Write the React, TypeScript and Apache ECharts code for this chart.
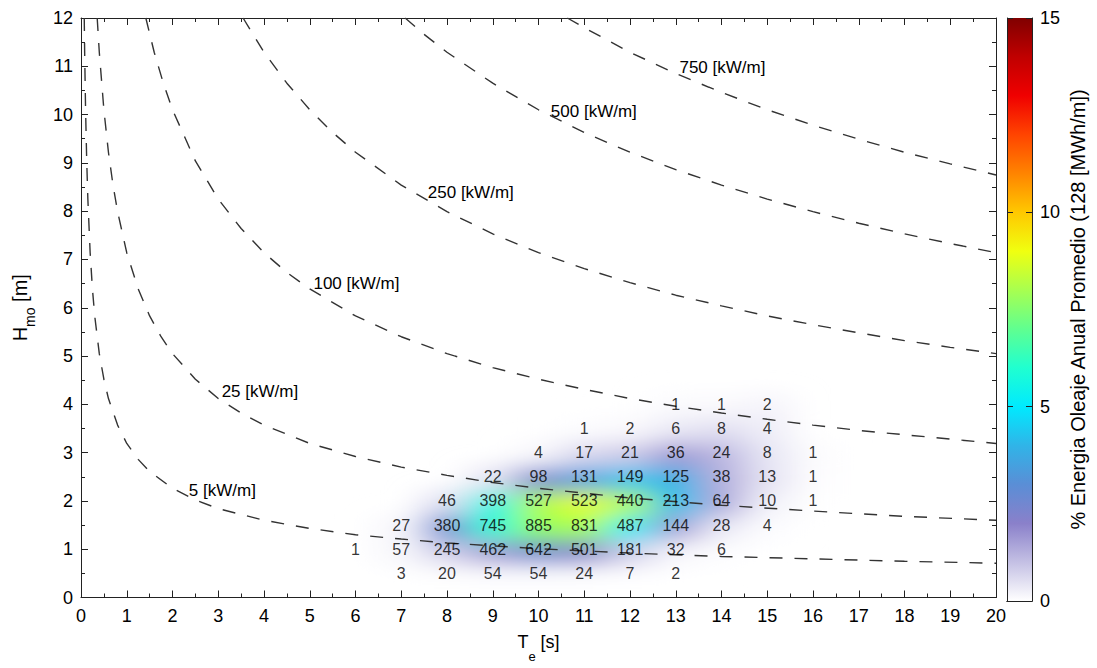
import React, { useEffect, useRef } from "react";
import * as echarts from "echarts";

// ---------------- data ----------------
const T_VALUES = [6, 7, 8, 9, 10, 11, 12, 13, 14, 15, 16];
const H_VALUES = [0.5, 1, 1.5, 2, 2.5, 3, 3.5, 4];

// number of sea states per (T, H) cell, one array per H row (index = T_VALUES)
const COUNT_H05 = [null, 3, 20, 54, 54, 24, 7, 2, null, null, null];
const COUNT_H10 = [1, 57, 245, 462, 642, 501, 181, 32, 6, null, null];
const COUNT_H15 = [null, 27, 380, 745, 885, 831, 487, 144, 28, 4, null];
const COUNT_H20 = [null, null, 46, 398, 527, 523, 440, 213, 64, 10, 1];
const COUNT_H25 = [null, null, null, 22, 98, 131, 149, 125, 38, 13, 1];
const COUNT_H30 = [null, null, null, null, 4, 17, 21, 36, 24, 8, 1];
const COUNT_H35 = [null, null, null, null, null, 1, 2, 6, 8, 4, null];
const COUNT_H40 = [null, null, null, null, null, null, null, 1, 1, 2, null];
const COUNT_ROWS = [COUNT_H05, COUNT_H10, COUNT_H15, COUNT_H20, COUNT_H25, COUNT_H30, COUNT_H35, COUNT_H40];

// % of mean annual wave energy per cell (colour scale)
const ENERGY_H05 = [null, 0.0, 0.02, 0.05, 0.05, 0.03, 0.01, 0.0, null, null, null];
const ENERGY_H10 = [0.0, 0.15, 0.76, 1.61, 2.48, 2.13, 0.84, 0.16, 0.03, null, null];
const ENERGY_H15 = [null, 0.16, 2.65, 5.83, 7.7, 7.95, 5.08, 1.63, 0.34, 0.05, null];
const ENERGY_H20 = [null, null, 0.57, 5.54, 8.15, 8.9, 8.17, 4.28, 1.39, 0.23, 0.02];
const ENERGY_H25 = [null, null, null, 0.48, 2.37, 3.48, 4.32, 3.93, 1.29, 0.47, 0.04];
const ENERGY_H30 = [null, null, null, null, 0.14, 0.65, 0.88, 1.63, 1.17, 0.42, 0.06];
const ENERGY_H35 = [null, null, null, null, null, 0.05, 0.11, 0.37, 0.53, 0.28, null];
const ENERGY_H40 = [null, null, null, null, null, null, null, 0.08, 0.09, 0.19, null];
const ENERGY_ROWS = [ENERGY_H05, ENERGY_H10, ENERGY_H15, ENERGY_H20, ENERGY_H25, ENERGY_H30, ENERGY_H35, ENERGY_H40];

// iso-power curves [T, H]
const POWER_LEVELS = ["5", "25", "100", "250", "500", "750"];
const CURVE_5 = [[0.0709, 12.0], [0.08, 11.29], [0.1, 10.1], [0.125, 9.04], [0.15, 8.25], [0.2, 7.14], [0.25, 6.39], [0.3, 5.83], [0.4, 5.05], [0.5, 4.52], [0.6, 4.12], [0.8, 3.57], [1, 3.19], [1.25, 2.86], [1.5, 2.61], [2, 2.26], [2.5, 2.02], [3, 1.84], [4, 1.6], [5, 1.43], [6, 1.3], [7, 1.21], [8, 1.13], [10, 1.01], [12, 0.92], [14, 0.85], [16, 0.8], [18, 0.75], [20, 0.71]];
const CURVE_25 = [[0.354, 12.0], [0.4, 11.29], [0.5, 10.1], [0.6, 9.22], [0.7, 8.54], [0.8, 7.99], [1, 7.14], [1.25, 6.39], [1.5, 5.83], [1.75, 5.4], [2, 5.05], [2.5, 4.52], [3, 4.12], [3.5, 3.82], [4, 3.57], [5, 3.19], [6, 2.92], [7, 2.7], [8, 2.53], [9, 2.38], [10, 2.26], [12, 2.06], [14, 1.91], [16, 1.79], [18, 1.68], [20, 1.6]];
const CURVE_100 = [[1.417, 12.0], [1.6, 11.29], [1.8, 10.65], [2, 10.1], [2.5, 9.04], [3, 8.25], [3.5, 7.64], [4, 7.14], [4.5, 6.73], [5, 6.39], [6, 5.83], [7, 5.4], [8, 5.05], [9, 4.76], [10, 4.52], [11, 4.31], [12, 4.12], [13, 3.96], [14, 3.82], [15, 3.69], [16, 3.57], [17, 3.46], [18, 3.37], [19, 3.28], [20, 3.19]];
const CURVE_250 = [[3.543, 12.0], [4, 11.29], [4.5, 10.65], [5, 10.1], [5.5, 9.63], [6, 9.22], [7, 8.54], [8, 7.99], [9, 7.53], [10, 7.14], [11, 6.81], [12, 6.52], [13, 6.26], [14, 6.04], [15, 5.83], [16, 5.65], [17, 5.48], [18, 5.32], [19, 5.18], [20, 5.05]];
const CURVE_500 = [[7.086, 12.0], [7.5, 11.66], [8, 11.29], [9, 10.65], [10, 10.1], [11, 9.63], [12, 9.22], [13, 8.86], [14, 8.54], [15, 8.25], [16, 7.99], [17, 7.75], [18, 7.53], [19, 7.33], [20, 7.14]];
const CURVE_750 = [[10.63, 12.0], [11, 11.8], [12, 11.29], [13, 10.85], [14, 10.46], [15, 10.1], [16, 9.78], [17, 9.49], [18, 9.22], [19, 8.98], [20, 8.75]];
const CURVES = [CURVE_5, CURVE_25, CURVE_100, CURVE_250, CURVE_500, CURVE_750];

const X_TICKS_MAX = 20;
const Y_TICKS_MAX = 12;
const CBAR_MAX = 15;

// ---------------- layout / style ----------------
const W = 1097;
const HGT = 668;
const PLOT = { left: 81, top: 18, width: 915, height: 583 };
const CBAR = { left: 1007, top: 18, width: 25, height: 583 };
const CURVE_LABEL_AT = [[3.09, 2.22], [3.91, 4.26], [6.02, 6.5], [8.52, 8.38], [11.21, 10.06], [14.02, 10.98]];
const FONT = "'Liberation Sans', Arial, Helvetica, sans-serif";
const AXIS_COLOR = "#222";
const COLORS = [
  "#ffffff", "#c4c0e4", "#8a80ca", "#5a8ed6", "#30b4e8", "#00eaff", "#20ffd0", "#60ff90",
  "#a8ff50", "#f0ff10", "#ffc800", "#ff8400", "#ff4400", "#f00000", "#c00000", "#800000",
];

const xPx = (t: number) => PLOT.left + (t / X_TICKS_MAX) * PLOT.width;
const yPx = (h: number) => PLOT.top + PLOT.height - (h / Y_TICKS_MAX) * PLOT.height;

function heatOption() {
  const data: any[] = [];
  ENERGY_ROWS.forEach((row, i) => {
    row.forEach((v, j) => {
      if (v !== null) data.push([j, i, v]);
    });
  });
  const left = xPx(T_VALUES[0] - 0.5);
  const right = xPx(T_VALUES[T_VALUES.length - 1] + 0.5);
  const top = yPx(H_VALUES[H_VALUES.length - 1] + 0.25);
  const bottom = yPx(H_VALUES[0] - 0.25);
  return {
    animation: false,
    grid: { left, top, width: right - left, height: bottom - top },
    xAxis: { type: "category", data: T_VALUES.map(String), show: false },
    yAxis: { type: "category", data: H_VALUES.map(String), show: false },
    visualMap: { type: "continuous", min: 0, max: CBAR_MAX, show: false, inRange: { color: COLORS }, seriesIndex: 0 },
    series: [
      {
        type: "heatmap",
        data,
        silent: true,
        progressive: 0,
        itemStyle: { borderWidth: 0 },
        emphasis: { disabled: true },
      },
    ],
  };
}

function mainOption() {
  const lineStyle = { color: AXIS_COLOR, width: 1 };
  const frameX = (pos: string, labels: boolean) => ({
    gridIndex: 0,
    type: "value",
    min: 0,
    max: X_TICKS_MAX,
    interval: 1,
    position: pos,
    axisLine: { show: true, onZero: false, lineStyle },
    axisTick: { show: true, inside: true, length: 7, lineStyle },
    minorTick: { show: true, splitNumber: 2, length: 4, lineStyle },
    splitLine: { show: false },
    minorSplitLine: { show: false },
    axisLabel: { show: labels, fontSize: 18, color: "#000", fontFamily: FONT, margin: 9 },
  });
  const frameY = (pos: string, labels: boolean) => ({
    gridIndex: 0,
    type: "value",
    min: 0,
    max: Y_TICKS_MAX,
    interval: 1,
    position: pos,
    axisLine: { show: true, onZero: false, lineStyle },
    axisTick: { show: true, inside: true, length: 7, lineStyle },
    minorTick: { show: true, splitNumber: 2, length: 4, lineStyle },
    splitLine: { show: false },
    minorSplitLine: { show: false },
    axisLabel: { show: labels, fontSize: 18, color: "#000", fontFamily: FONT, margin: 8 },
  });

  const countData: any[] = [];
  COUNT_ROWS.forEach((row, i) => {
    row.forEach((c, j) => {
      if (c !== null) countData.push([T_VALUES[j], H_VALUES[i], c]);
    });
  });

  const stops = COLORS.map((c, i) => ({ offset: i / (COLORS.length - 1), color: c }));

  const curveSeries = CURVES.map((curve, i) => ({
    type: "line",
    xAxisIndex: 0,
    yAxisIndex: 0,
    data: curve,
    symbol: "none",
    showSymbol: false,
    silent: true,
    clip: true,
    z: 3,
    lineStyle: { type: [13, 12], width: 1.4, color: "#333" },
    markPoint: {
      symbol: "circle",
      symbolSize: 1,
      silent: true,
      itemStyle: { color: "rgba(0,0,0,0)" },
      label: {
        show: true,
        position: "inside",
        formatter: `${POWER_LEVELS[i]} [kW/m]`,
        fontSize: 17,
        color: "#000",
        fontFamily: FONT,
      },
      data: [{ coord: CURVE_LABEL_AT[i] }],
    },
  }));

  return {
    animation: false,
    textStyle: { fontFamily: FONT },
    grid: [
      { left: PLOT.left, top: PLOT.top, width: PLOT.width, height: PLOT.height },
      { left: CBAR.left, top: CBAR.top, width: CBAR.width, height: CBAR.height },
    ],
    xAxis: [
      {
        ...frameX("bottom", true),
        name: "{a|T}{b|e}{a| [s]}",
        nameLocation: "middle",
        nameGap: 35,
        nameTextStyle: {
          rich: {
            a: { fontSize: 18, fontFamily: FONT, color: "#000", lineHeight: 20, verticalAlign: "top" },
            b: { fontSize: 13, fontFamily: FONT, color: "#000", lineHeight: 48 },
          },
        },
      },
      frameX("top", false),
      {
        gridIndex: 1,
        type: "category",
        data: [""],
        position: "bottom",
        z: 10,
        axisLine: { show: true, lineStyle },
        axisTick: { show: false },
        axisLabel: { show: false },
      },
      {
        gridIndex: 1,
        type: "category",
        data: [""],
        position: "top",
        z: 10,
        axisLine: { show: true, lineStyle },
        axisTick: { show: false },
        axisLabel: { show: false },
      },
    ],
    yAxis: [
      {
        ...frameY("left", true),
        name: "{a|H}{b|mo}{a| [m]}",
        nameLocation: "middle",
        nameRotate: 90,
        nameGap: 31,
        nameTextStyle: {
          rich: {
            a: { fontSize: 20, fontFamily: FONT, color: "#000", lineHeight: 22, verticalAlign: "top" },
            b: { fontSize: 14, fontFamily: FONT, color: "#000", lineHeight: 40 },
          },
        },
      },
      frameY("right", false),
      {
        gridIndex: 1,
        type: "value",
        min: 0,
        max: CBAR_MAX,
        interval: 5,
        position: "left",
        z: 10,
        axisLine: { show: true, lineStyle },
        axisTick: { show: true, inside: true, length: 6, lineStyle },
        splitLine: { show: false },
        axisLabel: { show: false },
      },
      {
        gridIndex: 1,
        type: "value",
        min: 0,
        max: CBAR_MAX,
        interval: 5,
        position: "right",
        z: 10,
        axisLine: { show: true, lineStyle },
        axisTick: { show: true, inside: true, length: 6, lineStyle },
        splitLine: { show: false },
        axisLabel: { show: true, fontSize: 18, color: "#000", fontFamily: FONT, margin: 8 },
        name: "% Energia Oleaje Anual Promedio (128 [MWh/m])",
        nameLocation: "middle",
        nameRotate: 90,
        nameGap: 36,
        nameTextStyle: { fontSize: 20, color: "#000", fontFamily: FONT },
      },
    ],
    series: [
      {
        type: "bar",
        xAxisIndex: 2,
        yAxisIndex: 2,
        data: [CBAR_MAX],
        barWidth: "100%",
        silent: true,
        z: 1,
        itemStyle: {
          color: { type: "linear", x: 0, y: 1, x2: 0, y2: 0, colorStops: stops },
        },
      },
      ...curveSeries,
      {
        type: "scatter",
        xAxisIndex: 0,
        yAxisIndex: 0,
        data: countData,
        symbolSize: 1,
        silent: true,
        z: 5,
        itemStyle: { color: "rgba(0,0,0,0)" },
        label: {
          show: true,
          position: "inside",
          formatter: (p: any) => String(p.value[2]),
          fontSize: 16,
          color: "#000",
          fontFamily: FONT,
        },
      },
    ],
  };
}

export default function App() {
  const heatRef = useRef<HTMLDivElement>(null);
  const mainRef = useRef<HTMLDivElement>(null);

  useEffect(() => {
    const heat = echarts.init(heatRef.current!, undefined, { renderer: "svg" });
    heat.setOption(heatOption() as any);
    const main = echarts.init(mainRef.current!, undefined, { renderer: "svg" });
    main.setOption(mainOption() as any);
    return () => {
      heat.dispose();
      main.dispose();
    };
  }, []);

  return (
    <div style={{ position: "fixed", left: 0, top: 0, width: W, height: HGT, background: "#fff" }}>
      <svg width="0" height="0" style={{ position: "absolute" }}>
        <defs>
          <filter id="heatBlur" x="-5%" y="-5%" width="110%" height="110%">
            <feGaussianBlur stdDeviation="18 10" />
          </filter>
        </defs>
      </svg>
      <div
        ref={heatRef}
        style={{ position: "absolute", left: 0, top: 0, width: W, height: HGT, filter: "url(#heatBlur)" }}
      />
      <div ref={mainRef} style={{ position: "absolute", left: 0, top: 0, width: W, height: HGT }} />
    </div>
  );
}
